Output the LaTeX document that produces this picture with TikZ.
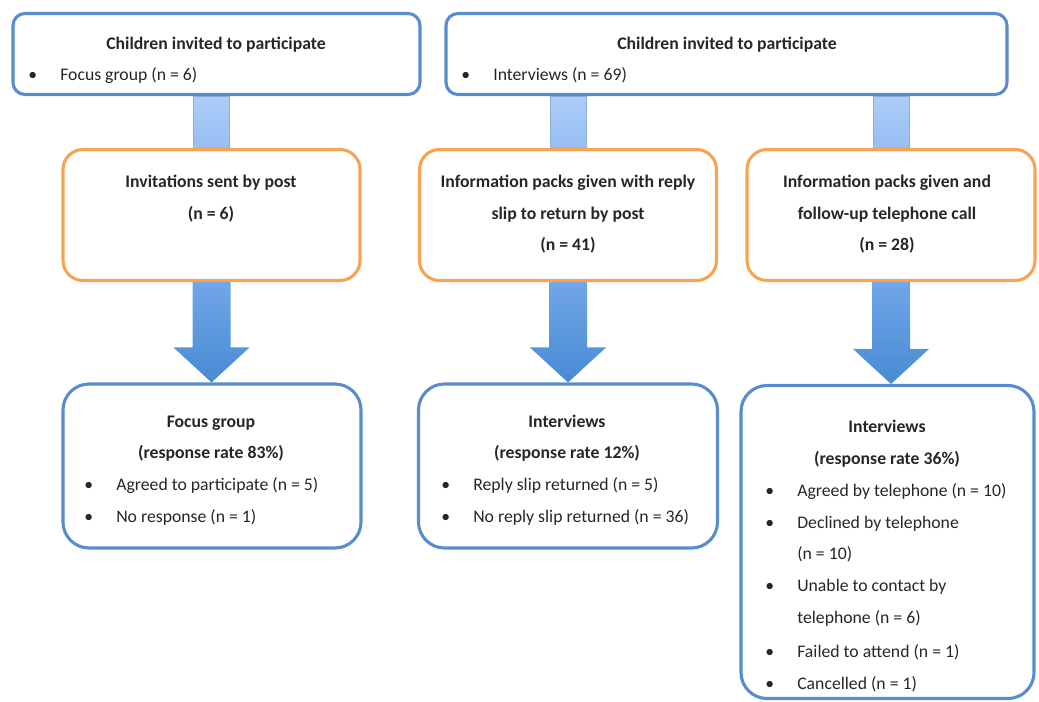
\documentclass[tikz,border=0pt]{standalone}
\usepackage{fontspec}
\setmainfont{Carlito}
\usepackage{tikz}
\usetikzlibrary{calc,backgrounds}

\definecolor{boxblue}{RGB}{88,140,204}
\definecolor{boxorange}{RGB}{248,163,84}
\definecolor{linktop}{RGB}{172,205,248}
\definecolor{linkbot}{RGB}{150,190,242}
\definecolor{flowtop}{RGB}{112,167,232}
\definecolor{flowbot}{RGB}{72,138,212}

\begin{document}
\begin{tikzpicture}[x=0.025cm, y=-0.025cm,
	every node/.style={font=\fontsize{12.6}{15}\selectfont, text=black!85},
	topbox/.style={draw=boxblue, line width=2.2pt, rounded corners=0.3cm, inner sep=0pt},
	packbox/.style={draw=boxorange, line width=2.2pt, rounded corners=0.5cm, inner sep=0pt},
	resbox/.style={draw=boxblue, line width=2.2pt, rounded corners=0.65cm, inner sep=0pt},
	head/.style={font=\fontsize{12.6}{15}\selectfont\bfseries, anchor=base, inner sep=0pt},
	entry/.style={anchor=base west, inner sep=0pt},
	link/.style={draw=boxblue!70, line width=0.4pt, top color=linktop, bottom color=linkbot},
	flow/.style={top color=flowtop, bottom color=flowbot}]
	\useasboundingbox (0,0) rectangle (1039,702);
	% boxes
	\node[topbox, minimum width={407*0.025cm}, minimum height={81*0.025cm}] (inviteFG) at (216.5,54) {};
	\node[topbox, minimum width={561*0.025cm}, minimum height={81*0.025cm}] (inviteIV) at (726.5,54) {};
	\node[packbox, minimum width={297*0.025cm}, minimum height={131*0.025cm}] (packFG) at (211.5,215) {};
	\node[packbox, minimum width={297*0.025cm}, minimum height={131*0.025cm}] (packRS) at (568,215) {};
	\node[packbox, minimum width={288*0.025cm}, minimum height={131*0.025cm}] (packTC) at (891,215) {};
	\node[resbox, minimum width={298*0.025cm}, minimum height={164*0.025cm}] (resFG) at (212,466) {};
	\node[resbox, minimum width={299*0.025cm}, minimum height={164*0.025cm}] (resRS) at (568,466) {};
	\node[resbox, minimum width={293*0.025cm}, minimum height={313*0.025cm}] (resTC) at (887.5,542) {};
	% connectors, behind the borders
	\begin{scope}[on background layer]
	\foreach \a/\b in {inviteFG/packFG, inviteIV/packRS, inviteIV/packTC}
		\path[link] ($(\b.north)+(-18,0)$) rectangle ($(\a.south -| \b.north)+(18,0)$);
	\foreach \a/\b in {packFG/resFG, packRS/resRS, packTC/resTC}
		\path[flow] ($(\a.south)+(-19,0)$) -- ($(\b.north -| \a.south)+(-19,-35)$)
			-- ($(\b.north -| \a.south)+(-38,-35)$) -- (\b.north -| \a.south)
			-- ($(\b.north -| \a.south)+(38,-35)$) -- ($(\b.north -| \a.south)+(19,-35)$)
			-- ($(\a.south)+(19,0)$) -- cycle;
	\end{scope}
	% texts
	\node[head] (inviteFG-t) at (216,50) {Children invited to participate};
	\node[entry] (inviteFG-i) at (28,81) {\makebox[0.8cm][l]{•}Focus group (n = 6)};
	\node[head] (inviteIV-t) at (727,50) {Children invited to participate};
	\node[entry] (inviteIV-i) at (461,81) {\makebox[0.8cm][l]{•}Interviews (n = 69)};

	\node[head] (packFG-1) at (211,188) {Invitations sent by post};
	\node[head] (packFG-2) at (211,219) {(n = 6)};
	\node[head] (packRS-1) at (568,188) {Information packs given with reply};
	\node[head] (packRS-2) at (568,219) {slip to return by post};
	\node[head] (packRS-3) at (568,250) {(n = 41)};
	\node[head] (packTC-1) at (887,188) {Information packs given and};
	\node[head] (packTC-2) at (887,219) {follow-up telephone call};
	\node[head] (packTC-3) at (887,250) {(n = 28)};

	\node[head] (resFG-1) at (211,427) {Focus group};
	\node[head] (resFG-2) at (211,458) {(response rate 83\%)};
	\node[entry] (resFG-i1) at (84,490) {\makebox[0.8cm][l]{•}Agreed to participate (n = 5)};
	\node[entry] (resFG-i2) at (84,522) {\makebox[0.8cm][l]{•}No response (n = 1)};

	\node[head] (resRS-1) at (567,427) {Interviews};
	\node[head] (resRS-2) at (567,458) {(response rate 12\%)};
	\node[entry] (resRS-i1) at (441,490) {\makebox[0.8cm][l]{•}Reply slip returned (n = 5)};
	\node[entry] (resRS-i2) at (441,522) {\makebox[0.8cm][l]{•}No reply slip returned (n = 36)};

	\node[head] (resTC-1) at (887,432) {Interviews};
	\node[head] (resTC-2) at (887,464) {(response rate 36\%)};
	\node[entry] (resTC-i1) at (765,496) {\makebox[0.8cm][l]{•}Agreed by telephone (n = 10)};
	\node[entry] (resTC-i2) at (765,528) {\makebox[0.8cm][l]{•}Declined by telephone};
	\node[entry] (resTC-i2b) at (797,559) {(n = 10)};
	\node[entry] (resTC-i3) at (765,591) {\makebox[0.8cm][l]{•}Unable to contact by};
	\node[entry] (resTC-i3b) at (797,623) {telephone (n = 6)};
	\node[entry] (resTC-i4) at (765,657) {\makebox[0.8cm][l]{•}Failed to attend (n = 1)};
	\node[entry] (resTC-i5) at (765,689) {\makebox[0.8cm][l]{•}Cancelled (n = 1)};
\end{tikzpicture}
\end{document}
